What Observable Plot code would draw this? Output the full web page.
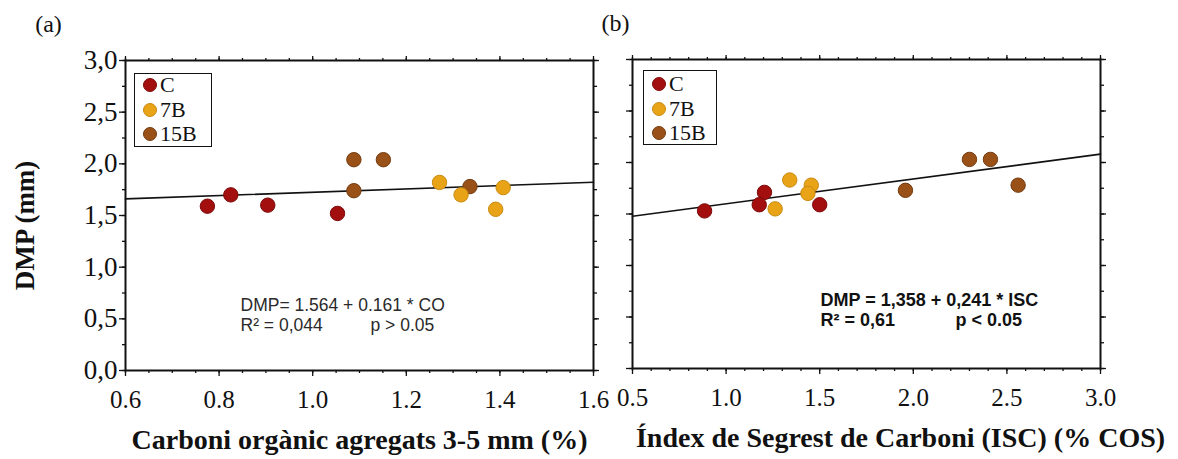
<!DOCTYPE html>
<html>
<head>
<meta charset="utf-8">
<script src="https://cdn.jsdelivr.net/npm/d3@7"></script>
<script src="https://cdn.jsdelivr.net/npm/@observablehq/plot@0.6"></script>
<style>
  html, body { margin: 0; padding: 0; background: #fff; }
  #wrap { position: relative; width: 1178px; height: 459px; overflow: hidden; }
  .panel { position: absolute; top: 0; }
  .legend { position: absolute; border: 1.5px solid #111; background: #fff; box-sizing: border-box; }
  .lrow { position: absolute; left: 0; height: 22px; display: flex; align-items: center; }
  .lmark { width: 14px; height: 14px; border-radius: 50%; box-sizing: border-box; margin-left: 8px; }
  .ltext { display: inline-block; height: 22px; line-height: 22px; overflow: visible; font-family: "Liberation Serif", serif; font-size: 22px; margin-left: 3px; color: #111; }
  svg { overflow: visible; }
</style>
</head>
<body>
<div id="wrap"></div>
<script>
// ---------- data ----------
const groups = ["C", "7B", "15B"];
const groupColors = ["#a30f0f", "#e8a317", "#9a5118"];
const groupStrokes = ["#7d0a0a", "#c98a10", "#743b10"];

// Panel (a): Carboni orgànic agregats 3-5 mm (%) vs DMP (mm)
const coA    = [0.775, 0.825, 0.904, 1.053, 1.088, 1.151, 1.088, 1.336, 1.271, 1.317, 1.407, 1.391];
const dmpA   = [1.59,  1.70,  1.60,  1.52,  2.04,  2.04,  1.74,  1.78,  1.82,  1.70,  1.77,  1.56];
const grpA   = ["C",   "C",   "C",   "C",   "15B", "15B", "15B", "15B", "7B",  "7B",  "7B",  "7B"];
const fitA   = [1.564, 0.161];   // intercept, slope
const eqA    = ["DMP= 1.564 + 0.161 * CO", "R² = 0,044", "p > 0.05"];

// Panel (b): Índex de Segrest de Carboni (ISC) vs DMP (mm)
const iscB   = [0.885, 1.205, 1.177, 1.50,  1.340, 1.455, 1.437, 1.262, 1.958, 2.30,  2.412, 2.56];
const dmpB   = [1.53,  1.71,  1.59,  1.59,  1.83,  1.78,  1.70,  1.55,  1.73,  2.03,  2.03,  1.78];
const grpB   = ["C",   "C",   "C",   "C",   "7B",  "7B",  "7B",  "7B",  "15B", "15B", "15B", "15B"];
const fitB   = [1.358, 0.241];
const eqB    = ["DMP = 1,358 + 0,241 * ISC", "R² = 0,61", "p < 0.05"];

// ticks
const xTicksA = [0.6, 0.8, 1.0, 1.2, 1.4, 1.6];
const xTicksB = [0.5, 1.0, 1.5, 2.0, 2.5, 3.0];
const yTicks  = [0.0, 0.5, 1.0, 1.5, 2.0, 2.5, 3.0];
const yLabel  = "DMP (mm)";
const xLabelA = "Carboni orgànic agregats 3-5 mm (%)";
const xLabelB = "Índex de Segrest de Carboni (ISC) (% COS)";

// ---------- helpers ----------
const serif = "Liberation Serif";
const sans = "Liberation Sans";
const commaFmt = d => d.toFixed(1).replace(".", ",");
const dotFmt = d => d.toFixed(1);
const strokeOf = g => groupStrokes[groups.indexOf(g)];

function axes(xTicks, xMinor, showYLabels) {
  const yMinor = d3.range(0, 3.0001, 0.25);
  const common = {label: null, stroke: "#111", strokeWidth: 1.3, fill: "none"};
  return [
    Plot.axisX({anchor: "bottom", ticks: xTicks, tickSize: 6, ...common}),
    Plot.axisX({anchor: "bottom", ticks: xMinor, tickSize: 3, ...common}),
    Plot.axisX({anchor: "top", ticks: xTicks, tickSize: 5, ...common}),
    Plot.axisX({anchor: "top", ticks: xMinor, tickSize: 3, ...common}),
    Plot.axisY({anchor: "left", ticks: yTicks, tickSize: 6, ...common}),
    Plot.axisY({anchor: "left", ticks: yMinor, tickSize: 3, ...common}),
    Plot.axisY({anchor: "right", ticks: yTicks, tickSize: 5, ...common}),
    Plot.axisY({anchor: "right", ticks: yMinor, tickSize: 3, ...common}),
    Plot.frame({stroke: "#111", strokeWidth: 2}),
    // tick labels (serif)
    Plot.text(xTicks, {x: d => d, text: dotFmt, frameAnchor: "bottom", lineAnchor: "middle", textAnchor: "middle", dy: 29, fontFamily: serif, fontSize: 25, fill: "#111"}),
    showYLabels ? Plot.text(yTicks, {y: d => d, text: commaFmt, frameAnchor: "left", lineAnchor: "middle", textAnchor: "end", dx: -8, fontFamily: serif, fontSize: 27, fill: "#111"}) : null
  ];
}

function panel(cfg) {
  const data = cfg.xs.map((x, i) => ({x, y: cfg.ys[i], g: cfg.gs[i]}));
  const line = cfg.xDomain.map(x => ({x, y: cfg.fit[0] + cfg.fit[1] * x}));
  const xMinor = d3.range(cfg.xDomain[0], cfg.xDomain[1] + 1e-9, cfg.minorStep).map(v => +v.toFixed(3));
  const eqOpts = {frameAnchor: "top-left", textAnchor: "start", lineAnchor: "middle", fontFamily: sans, fontSize: cfg.eqSize, fontWeight: cfg.eqWeight, fill: cfg.eqColor};
  return Plot.plot({
    width: cfg.width, height: 459,
    marginLeft: cfg.ml, marginRight: cfg.mr, marginTop: cfg.mt, marginBottom: 459 - cfg.bottom,
    x: {domain: cfg.xDomain},
    y: {domain: [0, 3]},
    color: {domain: groups, range: groupColors},
    style: {fontFamily: serif, fontSize: "22px", color: "#111", background: "transparent", overflow: "visible"},
    marks: [
      ...axes(cfg.xTicks, xMinor, cfg.yLabels),
      Plot.line(line, {x: "x", y: "y", stroke: "#111", strokeWidth: 1.6}),
      Plot.dot(data, {x: "x", y: "y", fill: "g", stroke: d => strokeOf(d.g), strokeWidth: 1, r: 7.2}),
      Plot.text([cfg.eq[0]], {...eqOpts, dx: cfg.eqDx, dy: cfg.eqDy}),
      Plot.text([cfg.eq[1]], {...eqOpts, dx: cfg.eqDx, dy: cfg.eqDy + 20}),
      Plot.text([cfg.eq[2]], {...eqOpts, dx: cfg.pDx, dy: cfg.eqDy + 20}),
      Plot.text([cfg.xLabel], {frameAnchor: "bottom", textAnchor: "middle", lineAnchor: "middle", dx: cfg.xLabelDx, dy: 70, fontFamily: serif, fontSize: 28, fontWeight: "bold", fill: "#111"}),
      Plot.text([cfg.tag], {frameAnchor: "top-left", textAnchor: "middle", lineAnchor: "middle", dx: cfg.tagDx, dy: -36, fontFamily: serif, fontSize: 24, fill: "#111"}),
      cfg.yLabels ? Plot.text([yLabel], {frameAnchor: "left", textAnchor: "middle", lineAnchor: "middle", dx: -100, dy: 10, rotate: -90, fontFamily: serif, fontSize: 27, fontWeight: "bold", fill: "#111"}) : null
    ]
  });
}

function legend(left, top, w, h, rows) {
  const box = document.createElement("div");
  box.className = "legend";
  Object.assign(box.style, {left: left + "px", top: top + "px", width: w + "px", height: h + "px"});
  groups.forEach((g, i) => {
    const row = document.createElement("div");
    row.className = "lrow";
    row.style.top = (rows[i] - 11) + "px";
    const m = document.createElement("div");
    m.className = "lmark";
    m.style.background = groupColors[i];
    m.style.border = "1px solid " + groupStrokes[i];
    const t = document.createElement("span");
    t.className = "ltext";
    t.textContent = g;
    row.appendChild(m); row.appendChild(t);
    box.appendChild(row);
  });
  return box;
}

const wrap = document.getElementById("wrap");

const pa = document.createElement("div");
pa.className = "panel"; pa.style.left = "0px";
pa.appendChild(panel({
  width: 600, ml: 125, mr: 7, mt: 60, bottom: 370,
  xDomain: [0.6, 1.6], xTicks: xTicksA, minorStep: 0.05,
  xs: coA, ys: dmpA, gs: grpA, fit: fitA, eq: eqA,
  eqDx: 115, eqDy: 245, pDx: 245, eqSize: 17.5, eqWeight: "normal", eqColor: "#2a2a2a",
  xLabel: xLabelA, xLabelDx: 0, tag: "(a)", tagDx: -77, yLabels: true
}));
wrap.appendChild(pa);

const pb = document.createElement("div");
pb.className = "panel"; pb.style.left = "600px";
pb.appendChild(panel({
  width: 578, ml: 32, mr: 78, mt: 59, bottom: 368,
  xDomain: [0.5, 3.0], xTicks: xTicksB, minorStep: 0.1,
  xs: iscB, ys: dmpB, gs: grpB, fit: fitB, eq: eqB,
  eqDx: 188, eqDy: 241, pDx: 323, eqSize: 18, eqWeight: "bold", eqColor: "#111",
  xLabel: xLabelB, xLabelDx: 34, tag: "(b)", tagDx: -17, yLabels: false
}));
wrap.appendChild(pb);

wrap.appendChild(legend(134, 73, 78, 74, [11, 36, 60]));
wrap.appendChild(legend(643, 70, 74, 75, [13, 38, 62]));
</script>
</body>
</html>
